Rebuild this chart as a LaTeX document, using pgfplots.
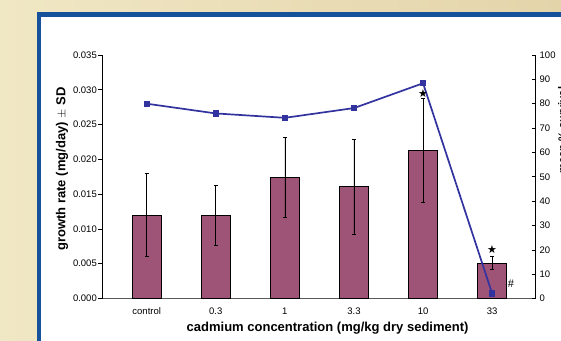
\documentclass[border=0pt]{standalone}
\usepackage{fontspec}
\setmainfont{Liberation Sans}
\newfontfamily\dejavu{DejaVu Sans}
\usepackage{pgfplots}
\pgfplotsset{compat=1.18}
\definecolor{barfill}{RGB}{158,84,118}
\definecolor{linecol}{RGB}{51,51,160}
\definecolor{framecol}{RGB}{22,82,155}
\definecolor{beigeL}{RGB}{240,231,196}
\definecolor{beigeR}{RGB}{228,212,170}
\pgfplotstableread{
x y e
0 0.0120 0.0060
1 0.0120 0.0043
2 0.0174 0.0058
3 0.0161 0.0068
4 0.0213 0.0075
5 0.0051 0.0009
}\growth
\pgfplotstableread{
x y
0 80
1 76
2 74.2
3 78.2
4 88.4
5 2
}\survival
\begin{document}
\begin{tikzpicture}[x=1pt,y=1pt]
\useasboundingbox (0,0) rectangle (561,340);
\clip (0,0) rectangle (561,340);
\shade[left color=beigeL, right color=beigeR] (0,0) rectangle (561,340);
\fill[white] (39,-10) rectangle (600,325.5);
\draw[framecol, line width=4.5pt] (39,-10) rectangle (600,325.5);
\begin{axis}[
  at={(102pt,41.5pt)}, anchor=south west,
  scale only axis, width=433pt, height=243.5pt,
  xmin=-0.647, xmax=5.62, ymin=0, ymax=0.035,
  axis y line*=left, axis x line*=bottom,
  x axis line style={-, draw=black!65, line width=1pt},
  y axis line style={-, draw=black, line width=0.8pt},
  ybar, bar width=29pt,
  xtick={0,...,5}, xticklabels={control,0.3,1,3.3,10,33},
  major x tick style={draw=none},
  ytick={0,0.005,...,0.035},
  scaled y ticks=false,
  yticklabel style={inner sep=1pt, /pgf/number format/.cd, fixed, fixed zerofill, precision=3},
  /pgf/number format/assume math mode=true,
  tick label style={font=\fontsize{9.5}{10}\selectfont},
  tick align=outside, major tick length=4pt,
  major y tick style={black, line width=0.6pt},
  xticklabel style={yshift=-2pt},
  ylabel={growth rate (mg/day) $\pm$ SD},
  xlabel={cadmium concentration (mg/kg dry sediment)},
  label style={font=\fontsize{13}{15}\selectfont\bfseries},
  ylabel style={at={(rel axis cs:-0.092,0.532)}, anchor=center},
  xlabel style={at={(rel axis cs:0.521,-0.121)}, anchor=center},
]
\addplot[fill=barfill, draw=black, line width=0.6pt,
  error bars/.cd, y dir=both, y explicit,
  error bar style={black, line width=0.6pt},
  error mark options={rotate=90, mark size=2pt, black, line width=0.6pt}]
  table[x=x, y=y, y error=e] {\growth};
\end{axis}
\begin{axis}[
  at={(102pt,41.5pt)}, anchor=south west,
  scale only axis, width=433pt, height=243.5pt,
  xmin=-0.647, xmax=5.62, ymin=0, ymax=100,
  axis y line*=right, axis x line=none,
  y axis line style={-, draw=black, line width=0.8pt},
  ytick={0,10,...,100},
  /pgf/number format/assume math mode=true,
  tick label style={font=\fontsize{9.5}{10}\selectfont},
  tick align=inside, major tick length=3pt,
  major y tick style={black, line width=0.6pt},
  yticklabel style={inner sep=1pt, xshift=3.5pt},
]
\addplot[linecol, line width=1.7pt, mark=square*, mark size=2.3pt, mark options={solid, fill=linecol}]
  table[x=x, y=y] {\survival};
\addplot[draw=none, mark=none, nodes near coords={\dejavu ★},
  nodes near coords style={anchor=center, font=\fontsize{11}{12}\selectfont, black}]
  coordinates {(4,84.3) (5,19.9)};
\addplot[draw=none, mark=none, nodes near coords={\#},
  nodes near coords style={anchor=center, font=\fontsize{11}{12}\selectfont, black}]
  coordinates {(5.27,6.0)};
\end{axis}
\node[rotate=90, anchor=base, font=\fontsize{11}{13}\selectfont\bfseries] at (566,210) {mean \% survival};
\end{tikzpicture}
\end{document}
